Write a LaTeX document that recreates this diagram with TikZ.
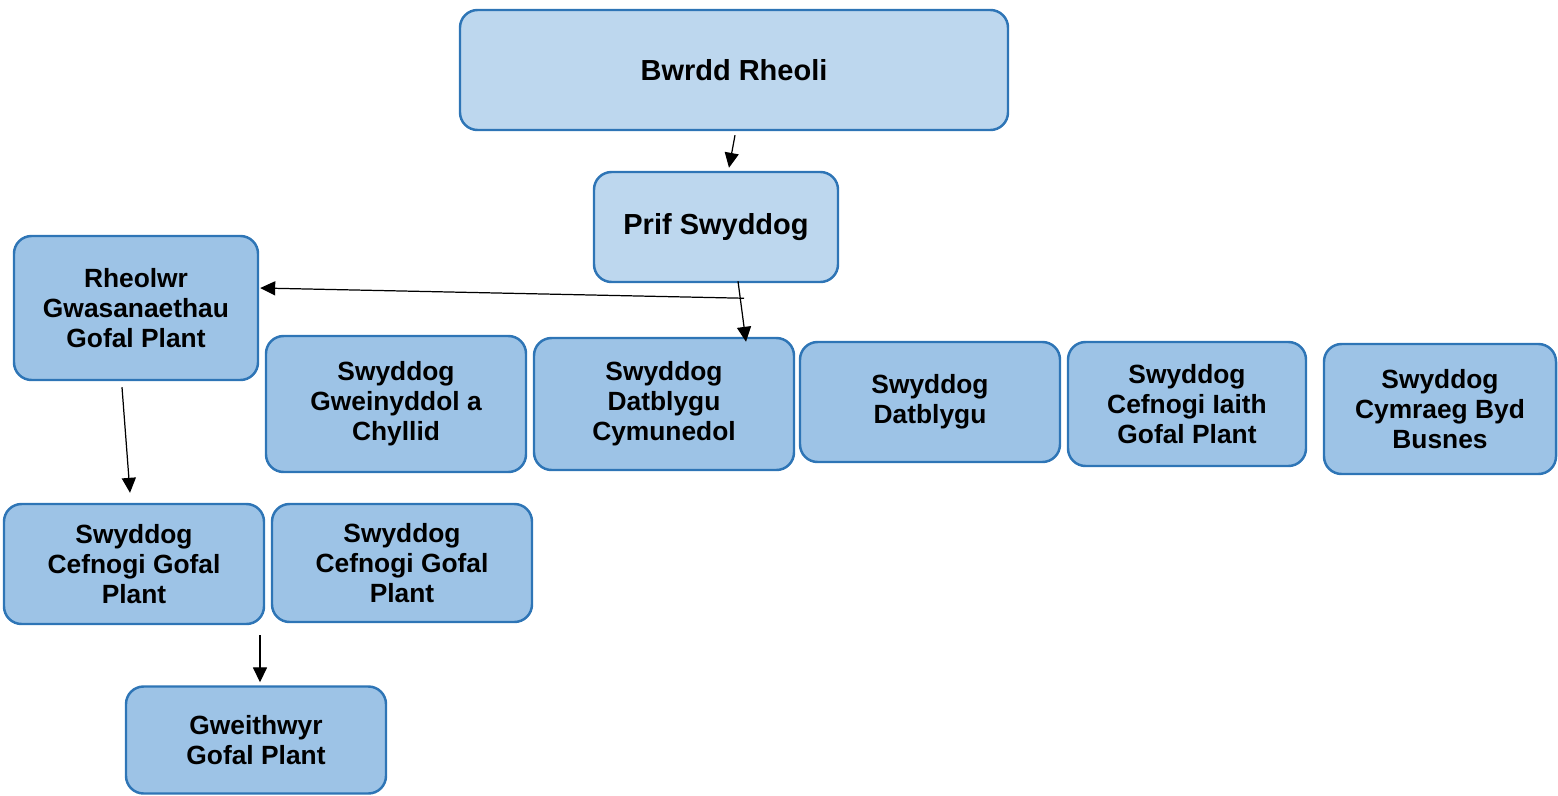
\documentclass[tikz,border=0pt]{standalone}
\usepackage{fontspec}
\setmainfont{Liberation Sans}
\usetikzlibrary{calc,arrows.meta}
\definecolor{boxline}{RGB}{46,117,182}
\definecolor{topfill}{RGB}{189,215,238}
\definecolor{postfill}{RGB}{157,195,230}
\tikzset{
	OrgChart/.style={x=0.02cm, y=-0.02cm},
	post/.style 2 args={draw=boxline, line width=1.4pt, rounded corners=10pt, fill=postfill,
		align=center, inner sep=0pt, font=\fontsize{15}{17}\selectfont\bfseries,
		minimum width=#1*0.02cm, minimum height=#2*0.02cm},
	toppost/.style 2 args={post={#1}{#2}, fill=topfill, font=\fontsize{16.5}{19}\selectfont\bfseries},
	link/.style={line width=0.7pt, -{Triangle[length=8.5pt,width=8pt]}}
}

\begin{document}
\begin{tikzpicture}[OrgChart]
		\useasboundingbox (0,0) rectangle (1558,795);

		% Board and chief officer
		\node[toppost={548}{120}] (bwrdd) at (734,70) {Bwrdd Rheoli};
		\node[toppost={244}{110}] (prif) at (716,227) {\raisebox{-3pt}{Prif Swyddog}};

		% Second row
		\node[post={244}{144}] (rheolwr) at (136,308) {Rheolwr\\Gwasanaethau\\Gofal Plant};
		\node[post={260}{136}] (gweinyddol) at (396,404) {Swyddog\\Gweinyddol a\\Chyllid};
		\node[post={260}{132}] (cymunedol) at (664,404) {Swyddog\\Datblygu\\Cymunedol};
		\node[post={260}{120}] (datblygu) at (930,402) {Swyddog\\Datblygu};
		\node[post={238}{124}] (iaith) at (1187,404) {Swyddog\\Cefnogi Iaith\\Gofal Plant};
		\node[post={232}{130}] (busnes) at (1440,409) {Swyddog\\Cymraeg Byd\\Busnes};

		% Childcare team
		\node[post={260}{120}] (cefnogiA) at (134,564) {Swyddog\\Cefnogi Gofal\\Plant};
		\node[post={260}{118}] (cefnogiB) at (402,563) {Swyddog\\Cefnogi Gofal\\Plant};
		\node[post={260}{107}] (gweithwyr) at (256,740) {Gweithwyr\\Gofal Plant};

		% Connectors
		\draw[link] ($(bwrdd.south)+(1,4)$) -- ($(prif.north)+(13,-3)$);
		\draw[link] ($(prif.south)+(22,-2)$) -- ($(cymunedol.north)+(82,5)$);
		\draw[link] ($(prif.south)+(28,15)$) -- ($(rheolwr.east)+(1,-20)$);
		\draw[link] ($(rheolwr.south)+(-14,6)$) -- ($(cefnogiA.north)+(-4,-10)$);
		\draw[link] ($(gweithwyr.north)+(4,-50)$) -- ($(gweithwyr.north)+(4,-3)$);
	\end{tikzpicture}
\end{document}
